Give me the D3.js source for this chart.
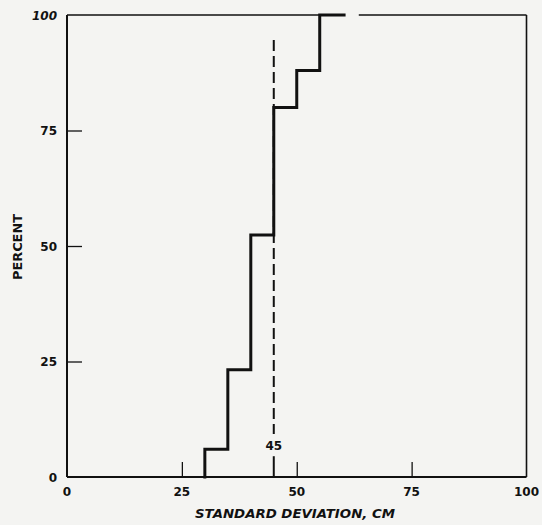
<!DOCTYPE html>
<html><head><meta charset="utf-8">
<script src="https://cdn.jsdelivr.net/npm/d3@7"></script>
<style>
html,body{margin:0;padding:0;background:#f4f4f2;}
text{font-family:"DejaVu Sans","Liberation Sans",sans-serif;fill:#111;}
</style></head>
<body>
<svg id="chart" width="542" height="525"></svg>
<script>
// Step-curve data: standard deviation (cm) vs cumulative percent
const stdDev = [30, 30, 35, 35, 40, 40, 45, 45, 50, 50, 55, 55, 60.3];
const percent = [0, 6, 6, 23.2, 23.2, 52.4, 52.4, 80, 80, 88, 88, 100, 100];
const xTicks = [0, 25, 50, 75, 100];
const yTicks = [0, 25, 50, 75, 100];
const markerValue = 45;
const markerTop = 94.6;

const svg = d3.select("#chart");
const x = d3.scaleLinear().domain([0, 100]).range([67, 526.5]);
const y = d3.scaleLinear().domain([0, 100]).range([477, 15]);

// frame
const frame = svg.append("g").attr("stroke", "#111").attr("fill", "none");
frame.append("line").attr("x1", x(0)).attr("x2", x(0)).attr("y1", y(0)).attr("y2", y(100)).attr("stroke-width", 2);
frame.append("line").attr("x1", x(0)).attr("x2", x(100)).attr("y1", y(0)).attr("y2", y(0)).attr("stroke-width", 2);
frame.append("line").attr("x1", x(100)).attr("x2", x(100)).attr("y1", y(0)).attr("y2", y(100)).attr("stroke-width", 1.6);
frame.append("line").attr("x1", x(0)).attr("x2", x(60.3)).attr("y1", y(100)).attr("y2", y(100)).attr("stroke-width", 1.6);
frame.append("line").attr("x1", x(63.5)).attr("x2", x(100)).attr("y1", y(100)).attr("y2", y(100)).attr("stroke-width", 1.6);

// inward ticks
const xAxis = d3.axisBottom(x).tickValues(xTicks.slice(1, -1)).tickSize(-15).tickFormat("");
svg.append("g").attr("transform", `translate(0,${y(0)})`).call(xAxis)
  .call(g => g.select(".domain").remove())
  .call(g => g.selectAll("line").attr("stroke", "#111").attr("stroke-width", 1.3));
const yAxis = d3.axisLeft(y).tickValues(yTicks.slice(1, -1)).tickSize(-15).tickFormat("");
svg.append("g").attr("transform", `translate(${x(0)},0)`).call(yAxis)
  .call(g => g.select(".domain").remove())
  .call(g => g.selectAll("line").attr("stroke", "#111").attr("stroke-width", 1.3));

// tick labels
svg.append("g").selectAll("text").data(xTicks).join("text")
  .attr("x", d => x(d)).attr("y", 496).attr("text-anchor", "middle")
  .attr("font-size", 12).attr("font-weight", "bold").text(d => d);
svg.append("g").selectAll("text").data(yTicks).join("text")
  .attr("x", 57).attr("y", d => y(d) + 4.5).attr("text-anchor", "end")
  .attr("font-size", 12).attr("font-weight", "bold")
  .attr("font-style", d => d === 100 ? "italic" : "normal").text(d => d);

// axis titles
svg.append("text").attr("x", 295).attr("y", 518).attr("text-anchor", "middle")
  .attr("font-size", 13).attr("font-weight", "bold").attr("font-style", "italic")
  .attr("textLength", 200).attr("lengthAdjust", "spacingAndGlyphs")
  .text("STANDARD DEVIATION, CM");
svg.append("text").attr("transform", "translate(22,247) rotate(-90)").attr("text-anchor", "middle")
  .attr("font-size", 12).attr("font-weight", "bold")
  .attr("textLength", 66).attr("lengthAdjust", "spacingAndGlyphs").text("PERCENT");

// dashed marker line at 45
const mk = svg.append("g").attr("stroke", "#111").attr("stroke-width", 2);
mk.append("line").attr("x1", x(markerValue)).attr("x2", x(markerValue))
  .attr("y1", y(markerTop)).attr("y2", y(9.3)).attr("stroke-dasharray", "11,5");
mk.append("line").attr("x1", x(markerValue)).attr("x2", x(markerValue))
  .attr("y1", y(4.5)).attr("y2", y(0));
svg.append("text").attr("x", x(markerValue)).attr("y", 450).attr("text-anchor", "middle")
  .attr("font-size", 12).attr("font-weight", "bold").text(markerValue);

// step curve
const pts = stdDev.map((d, i) => [d, percent[i]]);
svg.append("path").datum(pts)
  .attr("d", d3.line().x(d => x(d[0])).y(d => y(d[1])))
  .attr("fill", "none").attr("stroke", "#111").attr("stroke-width", 3)
  .attr("stroke-linejoin", "miter").attr("stroke-linecap", "square");
</script>
</body></html>
